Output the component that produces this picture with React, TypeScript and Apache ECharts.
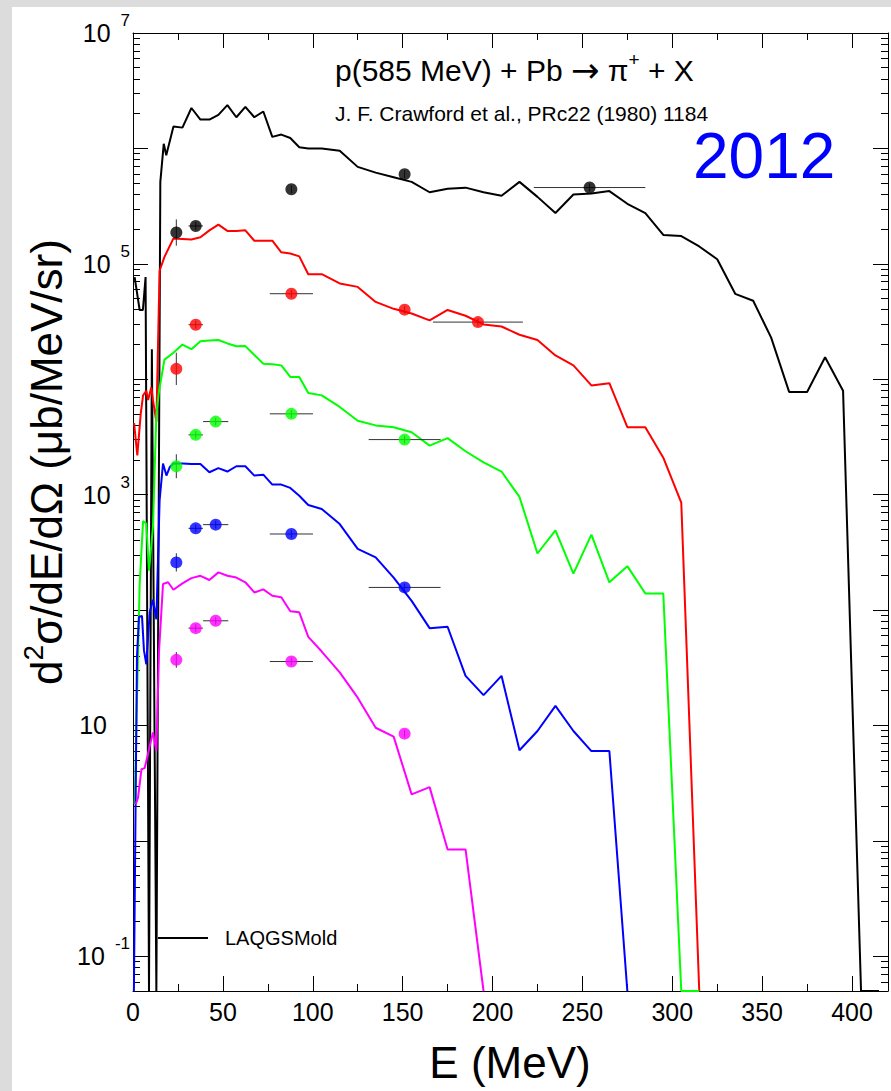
import React, { useEffect, useRef } from 'react';
import * as echarts from 'echarts';

const FONT = "'Liberation Sans', Arial, Helvetica, sans-serif";

// axis ticks / labels
const xLabelValues = [0, 50, 100, 150, 200, 250, 300, 350, 400];
const xMajorTicks = [50, 100, 150, 200, 250, 300, 350, 400];
const xMinorTicks = [25, 75, 125, 175, 225, 275, 325, 375];
const yLabelValues = [0.1, 10, 1e3, 1e5, 1e7];
const yDecadeTicks = [0.1, 1, 10, 100, 1e3, 1e4, 1e5, 1e6];
const yMinorTicks: number[] = [];
for (let d = -2; d <= 6; d++) {
  for (let k = 2; k <= 9; k++) {
    const v = Number((k * Math.pow(10, d)).toPrecision(6));
    if (v > 0.05 && v < 1e7) yMinorTicks.push(v);
  }
}

// LAQGSM model curves: [E (MeV), d2sigma/dE/dOmega]
const curveBlack = [
  [0.9, 76740], [3.7, 39810], [5.5, 39810], [7.0, 76740], [8.9, 0.05], [10.5, 18200], [13, 0.05],
  [15.2, 512900], [17.1, 1096000], [18.5, 871000], [22.5, 1549000], [27.5, 1514000], [32.5, 2239000],
  [37.5, 1778000], [42.5, 1778000], [47.5, 1950000], [52.5, 2371000], [57.5, 1862000], [62.5, 2291000],
  [67.5, 1862000], [72.5, 2089000], [77.5, 1259000], [82.5, 1318000], [87.5, 1230000], [92.5, 1023000],
  [97.5, 1000000], [105, 1000000], [115, 955000], [125, 691800], [135, 616600], [145, 562300],
  [155, 512900], [165, 416900], [175, 446700], [185, 457100], [195, 416900], [205, 389000],
  [215, 512900], [225, 380200], [235, 275400], [245, 398100], [255, 407400], [265, 426600],
  [275, 331100], [285, 275400], [295, 177800], [305, 173800], [315, 141300], [325, 109600],
  [335, 54950], [345, 47860], [355, 22910], [365, 7762], [375, 7762], [385, 15490], [395, 7943],
  [405, 0.05], [415, 0.05],
];
const curveRed = [
  [0.6, 4169], [2.4, 2188], [4.3, 5012], [5.6, 7244], [7.4, 7943], [8.4, 6607], [10.2, 8511],
  [11.1, 6607], [13, 4266], [14.8, 87100], [17.5, 114800], [22.5, 166000], [27.5, 164100],
  [32.5, 162200], [37.5, 169800], [42.5, 195000], [47.5, 218800], [52.5, 192800], [57.5, 192800],
  [62.5, 195000], [67.5, 158500], [72.5, 158500], [77.5, 158500], [82.5, 125900], [87.5, 123000],
  [92.5, 116100], [97.5, 81280], [105, 81280], [115, 67610], [125, 63100], [135, 46770],
  [145, 40740], [155, 37150], [165, 32360], [175, 39810], [185, 35480], [195, 29850], [205, 28640],
  [215, 24270], [225, 21880], [235, 16070], [245, 13180], [255, 8831], [265, 9247], [275, 3837],
  [285, 3837], [295, 2089], [305, 851], [315, 0.05],
];
const curveGreen = [
  [0.9, 2.09], [3.7, 166], [5.6, 589], [7.4, 562], [8.9, 219], [11.1, 525], [13, 5012],
  [14.5, 7943], [17.5, 14790], [22.5, 16980], [27.5, 19950], [32.5, 18200], [37.5, 21380],
  [42.5, 21630], [47.5, 21880], [52.5, 20420], [57.5, 19280], [62.5, 19360], [67.5, 16220],
  [72.5, 13610], [77.5, 13490], [82.5, 13180], [87.5, 10470], [92.5, 10470], [97.5, 7586],
  [105, 7244], [115, 5754], [125, 4365], [135, 3981], [145, 3837], [155, 3467], [165, 2661],
  [175, 3090], [185, 2377], [195, 1905], [205, 1585], [215, 955], [225, 309], [235, 490],
  [245, 207], [255, 450], [265, 174], [275, 240], [285, 139], [295, 139], [305, 0.05], [315, 0.05],
];
const curveBlue = [
  [0.5, 0.05], [2.2, 38.9], [3.3, 87.1], [5, 89.1], [6.1, 44.7], [7.4, 33.9], [9.3, 95.5],
  [11.1, 123], [13, 83.2], [14.8, 891], [16.7, 1862], [18.6, 1462], [20.4, 1726], [22.5, 1862],
  [27.5, 1862], [32.5, 1845], [37.5, 1845], [42.5, 1563], [47.5, 1698], [52.5, 1585], [57.5, 1762],
  [62.5, 1762], [67.5, 1462], [72.5, 1489], [77.5, 1222], [82.5, 1222], [87.5, 1143], [92.5, 977],
  [97.5, 813], [105, 750], [115, 556], [125, 339], [135, 286], [145, 191], [155, 120], [165, 69.7],
  [175, 71.6], [185, 26.9], [195, 18.3], [205, 26.9], [215, 6.1], [225, 8.95], [235, 14.8],
  [245, 8.95], [255, 6.0], [265, 6.0], [275, 0.05],
];
const curveMagenta = [
  [1.5, 2.07], [2.8, 2.37], [4.7, 4.17], [6.5, 4.27], [9.3, 6.61], [11.1, 8.71], [13, 6.03],
  [14.5, 44.7], [16.7, 168], [19.5, 174], [22.5, 150], [27.5, 170], [32.5, 189], [37.5, 198],
  [42.5, 182], [47.5, 212], [52.5, 198], [57.5, 191], [62.5, 174], [67.5, 142], [72.5, 151],
  [77.5, 133], [82.5, 129], [87.5, 97.7], [92.5, 95.5], [97.5, 58.6], [105, 43.7], [115, 28.8],
  [125, 17.4], [135, 9.55], [145, 8.0], [155, 2.53], [165, 2.92], [175, 0.843], [185, 0.843],
  [195, 0.05],
];

// Crawford et al. data: [E, value, half-width in E, vertical error factor]
const ptsBlack = [[24.1, 186600, 0, 1.3], [34.9, 212800, 4, 1.08], [88.1, 442600, 0, 1.08], [151.1, 598400, 0, 1.08], [254, 458100, 31, 1.08]];
const ptsRed = [[24.1, 12300, 0, 1.38], [34.9, 29650, 4, 1.08], [88.1, 55080, 12, 1.08], [151.1, 40090, 0, 1.08], [191.9, 31260, 25, 1.08]];
const ptsGreen = [[24.1, 1762, 0, 1.27], [34.9, 3296, 4, 1.08], [46, 4295, 7, 1.08], [88.1, 5012, 12, 1.08], [151.1, 2999, 20, 1.08]];
const ptsBlue = [[24.1, 258.8, 0, 1.2], [34.9, 510.5, 4, 1.08], [46, 549.5, 7, 1.08], [88.1, 456, 12, 1.08], [151.1, 157, 20, 1.08]];
const ptsMagenta = [[24.1, 37.0, 0, 1.17], [34.9, 69.7, 4, 1.08], [46, 80.7, 7, 1.08], [88.1, 35.8, 12, 1.08], [151.1, 8.49, 0, 1.08]];

const groups = [
  { curve: curveBlack, pts: ptsBlack, color: '#000000', name: 'LAQGSMold' },
  { curve: curveRed, pts: ptsRed, color: '#ff0000', name: 'red' },
  { curve: curveGreen, pts: ptsGreen, color: '#00ff00', name: 'green' },
  { curve: curveBlue, pts: ptsBlue, color: '#0000ff', name: 'blue' },
  { curve: curveMagenta, pts: ptsMagenta, color: '#ff00ff', name: 'magenta' },
];

export default function App() {
  const ref = useRef<HTMLDivElement>(null);
  useEffect(() => {
    document.body.style.margin = '0';
    const chart = echarts.init(ref.current!, undefined, { renderer: 'svg' });
    const X_MIN = 0, X_MAX = 420, Y_MIN = 0.05, Y_MAX = 1e7;
    const line = { show: true, onZero: false, lineStyle: { color: '#000', width: 1 } };
    const noLine = { show: false, onZero: false };
    const tick = (vals: number[], len: number) => ({ show: true, inside: true, length: len, customValues: vals, lineStyle: { color: '#000', width: 1 } });
    const xBase = { type: 'value', min: X_MIN, max: X_MAX, splitLine: { show: false } };
    const yBase = { type: 'log', logBase: 10, min: Y_MIN, max: Y_MAX, splitLine: { show: false } };

    const series: any[] = [];
    groups.forEach((g) => {
      series.push({
        type: 'line', name: g.name, data: g.curve, showSymbol: false, symbol: 'none',
        lineStyle: { color: g.color, width: 2 }, itemStyle: { color: g.color }, z: 2, clip: true,
      });
      series.push({
        type: 'custom', name: g.name + ' err', data: g.pts, z: 3, clip: true,
        encode: { x: 0, y: 1 },
        renderItem: (params: any, api: any) => {
          const x = api.value(0), y = api.value(1), dx = api.value(2), f = api.value(3);
          const c = api.coord([x, y]);
          const l = api.coord([x - dx, y]);
          const r = api.coord([x + dx, y]);
          const t = api.coord([x, y * f]);
          const b = api.coord([x, y / f]);
          const style = { stroke: '#333', lineWidth: 1 };
          const children: any[] = [];
          if (dx > 0) children.push({ type: 'line', shape: { x1: l[0], y1: c[1], x2: r[0], y2: c[1] }, style });
          children.push({ type: 'line', shape: { x1: c[0], y1: t[1], x2: c[0], y2: b[1] }, style });
          return { type: 'group', children };
        },
      });
      series.push({
        type: 'scatter', name: g.name + ' data', data: g.pts.map((p) => [p[0], p[1]]),
        symbol: 'circle', symbolSize: 12, itemStyle: { color: g.color }, z: 4,
      });
    });

    const option: any = {
      animation: false,
      backgroundColor: 'transparent',
      grid: { left: 133, right: 3, top: 33, bottom: 100, containLabel: false, outerBoundsMode: 'none' },
      legend: {
        data: [{ name: 'LAQGSMold', icon: 'rect' }], left: 158, top: 928, padding: 0,
        itemWidth: 50, itemHeight: 2, selectedMode: false,
        itemStyle: { color: '#000' },
        textStyle: { fontSize: 20, color: '#000', fontFamily: FONT, padding: [0, 0, 0, 12] },
      },
      xAxis: [
        { ...xBase, position: 'bottom', axisLine: line, axisTick: tick(xMajorTicks, 15),
          axisLabel: { customValues: xLabelValues, fontSize: 25, color: '#000', fontFamily: FONT, margin: 8 } },
        { ...xBase, position: 'bottom', axisLine: noLine, axisTick: tick(xMinorTicks, 7), axisLabel: { show: false } },
        { ...xBase, position: 'top', axisLine: line, axisTick: tick(xMajorTicks, 15), axisLabel: { show: false } },
        { ...xBase, position: 'top', axisLine: noLine, axisTick: tick(xMinorTicks, 7), axisLabel: { show: false } },
      ],
      yAxis: [
        { ...yBase, position: 'left', axisLine: line, axisTick: tick(yDecadeTicks, 15),
          axisLabel: {
            customValues: yLabelValues, margin: 3, color: '#000', fontFamily: FONT,
            formatter: (v: number) => {
              const e = Math.round(Math.log10(v));
              if (e === 1) return '{c|10}';
              return '{b|10}{s|' + e + '}';
            },
            rich: {
              b: { fontSize: 25, fontFamily: FONT, color: '#000' },
              c: { fontSize: 25, fontFamily: FONT, color: '#000', padding: [0, 23, 0, 0] },
              s: { fontSize: 17, fontFamily: FONT, color: '#000', padding: [0, 0, 25, 10] },
            },
          } },
        { ...yBase, position: 'left', axisLine: noLine, axisTick: tick(yMinorTicks, 7), axisLabel: { show: false } },
        { ...yBase, position: 'right', axisLine: line, axisTick: tick(yDecadeTicks, 15), axisLabel: { show: false } },
        { ...yBase, position: 'right', axisLine: noLine, axisTick: tick(yMinorTicks, 7), axisLabel: { show: false } },
      ],
      graphic: [
        {
          type: 'text', x: 335, y: 70,
          style: {
            text: '{a|p(585 MeV) + Pb }{r|\u2192}{a| \u03c0}{s|+}{a| + X}',
            verticalAlign: 'middle', align: 'left',
            rich: {
              a: { fontSize: 30, fontFamily: FONT, fill: '#000' },
              r: { fontSize: 34, fontFamily: "'DejaVu Sans', sans-serif", fill: '#000' },
              s: { fontSize: 19, fontFamily: FONT, fill: '#000', padding: [0, 0, 22, 0] },
            },
          },
        },
        {
          type: 'text', x: 335, y: 113,
          style: { text: 'J. F. Crawford et al., PRc22 (1980) 1184', fontSize: 21, fontFamily: FONT, fill: '#000', verticalAlign: 'middle', align: 'left' },
        },
        {
          type: 'text', x: 693, y: 156,
          style: { text: '2012', fontSize: 64, fontFamily: "'Comic Sans MS', 'Liberation Sans', sans-serif", fill: '#0000ff', verticalAlign: 'middle', align: 'left' },
        },
        {
          type: 'text', x: 510, y: 1062,
          style: { text: 'E (MeV)', fontSize: 44, fontFamily: FONT, fill: '#000', verticalAlign: 'middle', align: 'center' },
        },
        {
          type: 'text', x: 46, y: 462, rotation: Math.PI / 2,
          style: {
            text: '{m|d}{s|2}{m|\u03c3/dE/d\u03a9 (\u03bcb/MeV/sr)}',
            verticalAlign: 'middle', align: 'center',
            rich: {
              m: { fontSize: 44, fontFamily: FONT, fill: '#000' },
              s: { fontSize: 28, fontFamily: FONT, fill: '#000', padding: [0, 0, 26, 0] },
            },
          },
        },
      ],
      series,
    };
    chart.setOption(option);
    return () => chart.dispose();
  }, []);

  return (
    <div style={{ position: 'absolute', left: 0, top: 0, width: 891, height: 1091, background: '#dcdcdc', overflow: 'hidden' }}>
      <div style={{ position: 'absolute', left: 12, top: 7, right: 0, bottom: 0, background: '#ffffff' }} />
      <div ref={ref} style={{ position: 'absolute', left: 0, top: 0, width: 891, height: 1091 }} />
    </div>
  );
}
